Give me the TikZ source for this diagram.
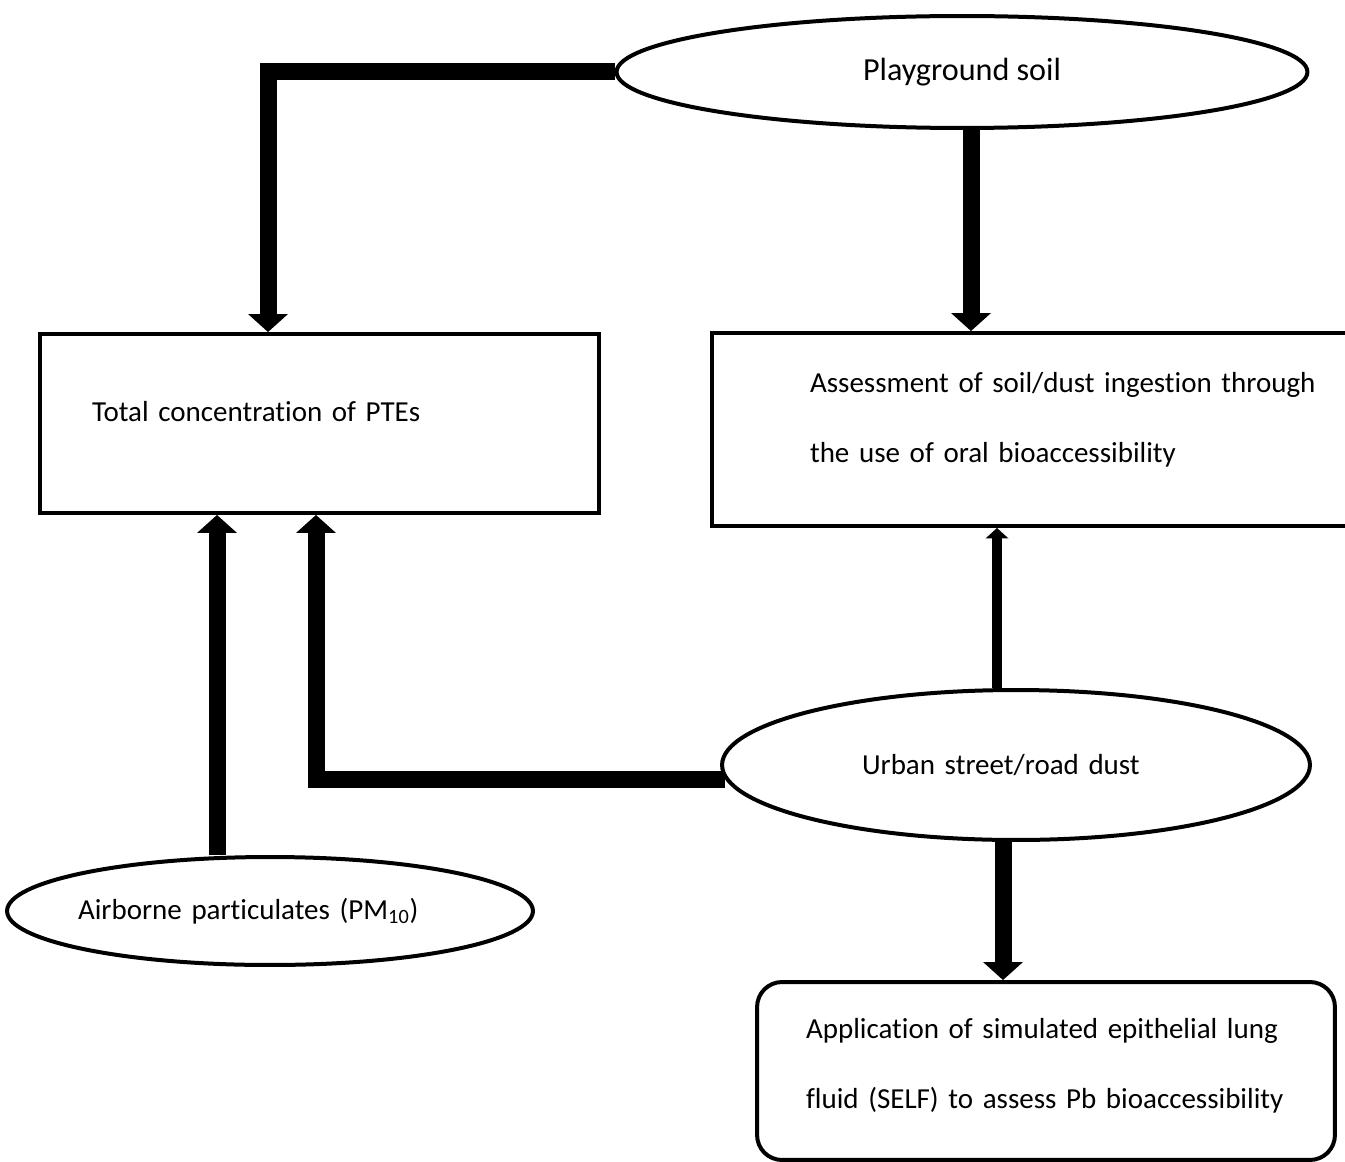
\documentclass[tikz,border=0pt]{standalone}
\usepackage{fontspec}
\setmainfont{Carlito}[Ligatures=NoCommon]
\usepackage{tikz}
\usetikzlibrary{arrows.meta, shapes.geometric}
\tikzset{
  sample/.style={
    ellipse, draw, line width=0.08cm, inner sep=0pt,
    font=\fontsize{16.5pt}{20pt}\selectfont
  },
  result/.style={
    rectangle, draw, line width=0.08cm, align=left, inner sep=0pt,
    font=\fontsize{16.5pt}{39.8pt}\selectfont
  },
  flow/.style={-{Triangle[length=0.36cm, width=0.8cm, line width=0pt]}, line width=0.34cm},
  thinflow/.style={-{Triangle[length=0.21cm, width=0.46cm, line width=0pt]}, line width=0.2cm}
}

\begin{document}
\begin{tikzpicture}[x=0.02cm, y=-0.02cm]
  \useasboundingbox (0,0) rectangle (1345,1162);
  % samples
  \node[sample, minimum width=13.82cm, minimum height=2.24cm, font=\fontsize{18.3pt}{22pt}\selectfont] (soil) at (962,72) {Playground soil};
  \node[sample, minimum width=11.76cm, minimum height=3.0cm, text width=6.16cm, align=left] (dust) at (1016,765) {Urban street/road dust};
  \node[sample, minimum width=10.52cm, minimum height=2.16cm, text width=7.68cm, align=left, inner xsep=-0.3cm] (air) at (270,911) {Airborne particulates (PM\textsubscript{10})};
  % results
  \node[result, minimum width=11.18cm, minimum height=3.58cm, text width=9.1cm, text depth=0.48cm] (total) at (319.5,423.5) {Total concentration of PTEs};
  \node[result, minimum width=14.52cm, minimum height=3.86cm, text width=10.6cm, text depth=1.9cm] (ingest) at (1075,429.5) {
    Assessment of soil/dust ingestion through\\the use of oral bioaccessibility
  };
  \node[result, rounded corners=0.5cm, minimum width=11.56cm, minimum height=3.56cm, text width=9.6cm, text depth=1.7cm] (self) at (1046,1071) {
    Application of simulated epithelial lung\\fluid (SELF) to assess Pb bioaccessibility
  };
  % connectors
  \draw[flow] (soil.west) -| ([xshift=-1.03cm]total.north);
  \draw[flow] ([xshift=0.18cm]soil.south) -- ([xshift=0.18cm]soil.south |- ingest.north);
  \draw[flow] ([shift={(0.1cm,-0.28cm)}]dust.west) -| ([xshift=-0.07cm]total.south);
  \draw[thinflow] ([xshift=-0.38cm]dust.north) -- ([xshift=-0.38cm]dust.north |- ingest.south);
  \draw[flow] ([xshift=-0.26cm]dust.south) -- ([xshift=-0.26cm]dust.south |- self.north);
  \draw[flow] ([xshift=-1.06cm]air.north) -- ([xshift=-1.06cm]air.north |- total.south);
\end{tikzpicture}
\end{document}
